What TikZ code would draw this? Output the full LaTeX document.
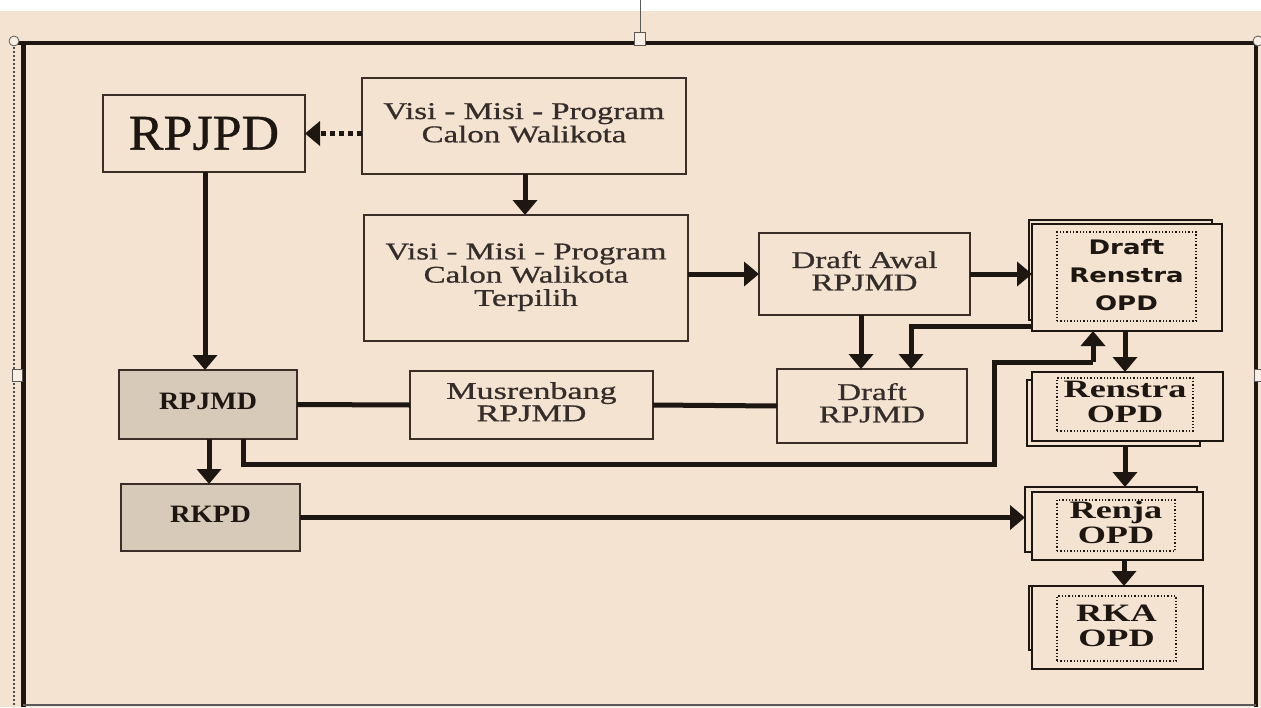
\documentclass[tikz,border=0pt]{standalone}
\usepackage{fontspec}
\usepackage{graphicx}
\setmainfont{Liberation Serif}
\newfontfamily\heavyserif{Liberation Serif}[FakeBold=0.7]
\newfontfamily\dvsans{DejaVu Sans}
\usetikzlibrary{arrows.meta}
\definecolor{bg}{HTML}{F4E3D0}
\definecolor{grayfill}{HTML}{D8CAB8}
\definecolor{ink}{HTML}{1E1611}
\definecolor{edge}{HTML}{3A2E26}
\newcommand{\stx}[2]{\scalebox{#1}[1]{\begin{tabular}{@{}c@{}}#2\end{tabular}}}
\tikzset{
  box/.style={draw=edge, line width=2pt, fill=bg, inner sep=0pt, outer sep=0pt},
  graybox/.style={box, fill=grayfill},
  backbox/.style={draw=ink, line width=2.4pt, fill=bg, inner sep=0pt, outer sep=0pt},
  inner/.style={draw=ink, line width=1.3pt, dotted, inner sep=0pt},
  conn/.style={draw=ink, line width=5pt},
  arr/.style={conn, -{Triangle[width=24pt,length=15pt]}},
  dotarr/.style={arr, dash pattern=on 5pt off 4pt},
  reg/.style={font=\heavyserif\fontsize{24}{22}\selectfont, text=ink!90!white},
  bsr/.style={font=\fontsize{25}{25}\selectfont\bfseries, text=ink},
  handle/.style={draw=gray!70!black, fill=bg!60!white, line width=0.8pt}
}
\begin{document}
\begin{tikzpicture}[x=1pt,y=-1pt]
\useasboundingbox (0,0) rectangle (1261,707);
% background
\fill[white] (0,0) rectangle (1261,707);
\fill[bg] (0,11) rectangle (1261,707);
% frame
\draw[gray!70!black, line width=1pt] (640,0) -- (640,33);
\draw[ink, line width=4pt] (14,43) -- (1257,43);
\draw[ink, line width=5pt] (23,43) -- (23,707);
\draw[gray!60!black, line width=2pt, dotted] (14,43) -- (14,707);
\draw[ink, line width=4pt] (1256,43) -- (1256,707);
\draw[gray!70!black, line width=2pt] (23,705) -- (1256,705);
\node[handle, circle, minimum size=10pt, inner sep=0pt] (h1) at (14,41) {};
\node[handle, circle, minimum size=10pt, inner sep=0pt] (h2) at (1258,41) {};
\node[handle, rectangle, minimum width=11pt, minimum height=13pt, inner sep=0pt] (h3) at (640,39) {};
\node[handle, rectangle, minimum width=10pt, minimum height=12pt, inner sep=0pt] (h4) at (17,375) {};
\node[handle, rectangle, minimum width=8pt, minimum height=12pt, inner sep=0pt] (h5) at (1258,375) {};

% boxes
\node[box, minimum width=202pt, minimum height=77pt, text=ink] (rpjpd) at (204,133.5)
  {\heavyserif\fontsize{50}{50}\selectfont\scalebox{1.04}[1]{RPJPD}};
\node[box, minimum width=324pt, minimum height=96pt, reg] (visi1) at (524,126)
  {\stx{1.37}{Visi - Misi - Program\\Calon Walikota}};
\node[box, minimum width=324pt, minimum height=126pt, reg] (visi2) at (526,278)
  {\stx{1.37}{Visi - Misi - Program\\Calon Walikota\\Terpilih}};
\node[box, minimum width=211pt, minimum height=82pt, reg] (awal) at (864.5,274)
  {\stx{1.37}{Draft Awal\\RPJMD}};
\node[graybox, minimum width=178pt, minimum height=69pt, bsr] (rpjmd) at (208,404.5)
  {\stx{1.12}{RPJMD}};
\node[box, minimum width=243pt, minimum height=68pt, reg] (mus) at (531.5,405)
  {\stx{1.42}{Musrenbang\\RPJMD}};
\node[box, minimum width=190pt, minimum height=74pt, reg] (draft) at (872,406)
  {\stx{1.37}{Draft\\RPJMD}};
\node[graybox, minimum width=179pt, minimum height=67pt, bsr] (rkpd) at (210.5,517.5)
  {\stx{1.14}{RKPD}};

% stacked OPD boxes
\node[backbox, minimum width=183pt, minimum height=100pt] (drenstrab) at (1120.5,270) {};
\node[box, draw=ink, line width=2.4pt, minimum width=190pt, minimum height=107pt] (drenstra) at (1127,277.5) {};
\node[inner, minimum width=139pt, minimum height=89pt, text=ink] (drenstrai) at (1126.5,276.5)
  {\dvsans\bfseries\fontsize{20}{28}\selectfont\stx{1.3}{Draft\\Renstra\\OPD}};

\node[backbox, minimum width=173pt, minimum height=66pt] (renstrab) at (1113.5,413) {};
\node[box, draw=ink, line width=2.4pt, minimum width=191pt, minimum height=69pt] (renstra) at (1127.5,406.5) {};
\node[inner, minimum width=136pt, minimum height=53pt, bsr] (renstrai) at (1125,404.5)
  {\stx{1.45}{Renstra\\OPD}};

\node[backbox, minimum width=172pt, minimum height=65pt] (renjab) at (1111,519.5) {};
\node[box, draw=ink, line width=2.4pt, minimum width=171pt, minimum height=68pt] (renja) at (1117.5,526) {};
\node[inner, minimum width=118pt, minimum height=51pt, bsr] (renjai) at (1116,525.5)
  {\stx{1.45}{Renja\\OPD}};

\node[backbox, minimum width=166pt, minimum height=64pt] (rkab) at (1112,618) {};
\node[box, draw=ink, line width=2.4pt, minimum width=171pt, minimum height=83pt] (rka) at (1117.5,627.5) {};
\node[inner, minimum width=119pt, minimum height=65pt, bsr] (rkai) at (1116.5,628.5)
  {\stx{1.45}{RKA\\OPD}};

% junction coordinates
\coordinate (j1) at (994,464);
\coordinate (j2) at (1093,362);

% connectors
\draw[dotarr] (visi1.west |- rpjpd.east) -- (rpjpd.east);
\draw[arr] ([xshift=1pt]visi1.south) -- ([xshift=1pt]visi1.south |- visi2.north);
\draw[arr] ([xshift=1pt]rpjpd.south) -- ([xshift=1pt]rpjpd.south |- rpjmd.north);
\draw[arr] (visi2.east |- awal.west) -- (awal.west);
\draw[arr] (awal.east) -- (awal.east -| drenstra.west);
\draw[arr] ([xshift=-3.5pt]awal.south) -- ([xshift=-3.5pt]awal.south |- draft.north);
\draw[arr] ([yshift=5pt]drenstra.south west) -| ([xshift=39pt]draft.north);
\draw[conn] (rpjmd.east) -- (mus.west);
\draw[conn] (mus.east) -- (draft.west);
\draw[conn] ([xshift=35pt]rpjmd.south) |- (j1) |- (j2);
\draw[arr] (j2) -- (j2 |- drenstra.south);
\draw[arr] ([xshift=-2pt]drenstra.south) -- ([xshift=-2pt]drenstra.south |- renstra.north);
\draw[arr] ([xshift=-2.5pt]renstrab.south -| renstra.south) -- ([xshift=-2.5pt]renstra.south |- renjab.north);
\draw[arr] ([xshift=1pt]rpjmd.south) -- ([xshift=1pt]rpjmd.south |- rkpd.north);
\draw[arr] (rkpd.east) -- (rkpd.east -| renjab.west);
\draw[arr] ([xshift=6.5pt]renja.south) -- ([xshift=6.5pt]renja.south |- rka.north);
\end{tikzpicture}
\end{document}
